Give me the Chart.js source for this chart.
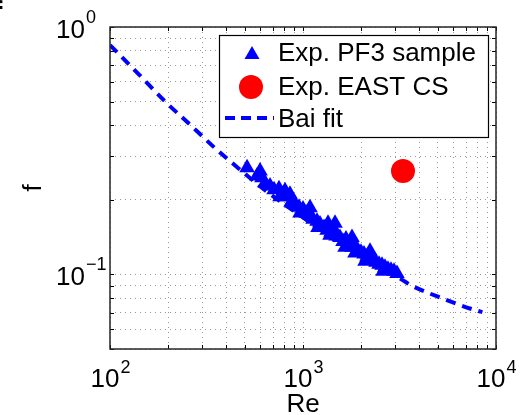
<!DOCTYPE html>
<html>
<head>
<meta charset="utf-8">
<script src="https://cdn.jsdelivr.net/npm/chart.js@4"></script>
<style>
body { margin: 0; background: #fff; }
</style>
</head>
<body>
<canvas id="trand1" width="526" height="415"></canvas>
<script>
// Exp. PF3 sample
let pf3Re = [513, 578, 599, 613, 636, 675, 708, 751, 760, 778, 807, 826, 856, 867, 909, 954, 965, 1000, 1036, 1087, 1087, 1127, 1182, 1196, 1225,
             1285, 1332, 1348, 1380, 1397, 1447, 1465, 1483, 1555, 1612, 1651, 1670, 1731, 1794, 1794, 1859, 1859, 1928, 1998, 2071, 2096,
             2146, 2224, 2224, 2305, 2389, 2476, 2566, 2597, 2660, 2756, 2858, 2961, 3069],
    pf3F = [0.270, 0.250, 0.262, 0.246, 0.234, 0.228, 0.220, 0.222, 0.206, 0.211, 0.218, 0.206, 0.211, 0.196, 0.193, 0.187, 0.177, 0.184, 0.177, 0.174, 0.186,
            0.167, 0.164, 0.155, 0.160, 0.155, 0.151, 0.161, 0.144, 0.148, 0.152, 0.161, 0.143, 0.141, 0.136, 0.129, 0.139, 0.132, 0.129, 0.141,
            0.130, 0.122, 0.125, 0.123, 0.121, 0.113, 0.118, 0.116, 0.124, 0.114, 0.112, 0.110, 0.109, 0.103, 0.107, 0.105, 0.104, 0.103, 0.101],
    // Exp. EAST CS
    eastRe = [3297],
    eastF = [0.262],
    // Bai fit curve
    baiRe = [100, 141, 193, 260, 358, 428, 631, 1000, 1585, 2239, 3185, 3580, 5310, 7980, 8500],
    baiF = [0.845, 0.644, 0.500, 0.403, 0.319, 0.283, 0.220, 0.170, 0.132, 0.112, 0.0964, 0.091, 0.0799, 0.0714, 0.0705],
    // grid / tick positions
    xTickVals = [100, 200, 300, 400, 500, 600, 700, 800, 900, 1000, 2000, 3000, 4000, 5000, 6000, 7000, 8000, 9000, 10000],
    yTickVals = [0.05, 0.06, 0.07, 0.08, 0.09, 0.1, 0.2, 0.3, 0.4, 0.5, 0.6, 0.7, 0.8, 0.9, 1],
    xMajor = [100, 1000, 10000],
    xExp = ['2', '3', '4'],
    yMajor = [1, 0.1],
    yExp = ['0', '\u22121'];

const FONT = '"Liberation Sans", Arial, sans-serif';

function toPts(xs, ys) {
    return xs.map(function(x, i) { return {x: x, y: ys[i]} });
}

let matlabLook = {
    id: 'matlabLook',
    afterDraw: function(chart) {
        let ctx = chart.ctx,
            a = chart.chartArea,
            sx = chart.scales.x,
            sy = chart.scales.y;
        ctx.save();

        // small tick marks inside the box
        ctx.strokeStyle = '#000';
        ctx.lineWidth = 1;
        ctx.beginPath();
        xTickVals.forEach(function(v) {
            let px = Math.round(sx.getPixelForValue(v)) + 0.5;
            ctx.moveTo(px, a.bottom); ctx.lineTo(px, a.bottom - 4);
            ctx.moveTo(px, a.top); ctx.lineTo(px, a.top + 4);
        });
        yTickVals.forEach(function(v) {
            let py = Math.round(sy.getPixelForValue(v)) + 0.5;
            ctx.moveTo(a.left, py); ctx.lineTo(a.left + 4, py);
            ctx.moveTo(a.right, py); ctx.lineTo(a.right - 4, py);
        });
        ctx.stroke();

        // frame
        ctx.strokeStyle = '#262626';
        ctx.lineWidth = 1.5;
        ctx.strokeRect(a.left, a.top, a.right - a.left, a.bottom - a.top);

        // tick labels 10^n
        ctx.fillStyle = '#000';
        ctx.textBaseline = 'alphabetic';
        xMajor.forEach(function(v, i) {
            let px = sx.getPixelForValue(v);
            ctx.font = '26px ' + FONT;
            let w1 = ctx.measureText('10').width;
            ctx.font = '18px ' + FONT;
            let w2 = ctx.measureText(xExp[i]).width;
            let x0 = px - (w1 + w2) / 2;
            ctx.textAlign = 'left';
            ctx.font = '26px ' + FONT;
            ctx.fillText('10', x0, 387);
            ctx.font = '18px ' + FONT;
            ctx.fillText(xExp[i], x0 + w1 + 1, 373);
        });
        yMajor.forEach(function(v, i) {
            let py = sy.getPixelForValue(v);
            ctx.textAlign = 'left';
            ctx.font = '26px ' + FONT;
            let w1 = ctx.measureText('10').width;
            ctx.fillText('10', 56, py + 11);
            ctx.font = '18px ' + FONT;
            ctx.fillText(yExp[i], 56 + w1 + 1, py - 4);
        });

        // axis titles
        ctx.font = '26px ' + FONT;
        ctx.textAlign = 'center';
        ctx.fillText('Re', (a.left + a.right) / 2, 412);
        ctx.save();
        ctx.translate(41, (a.top + a.bottom) / 2);
        ctx.rotate(-Math.PI / 2);
        ctx.fillText('f', 0, 0);
        ctx.restore();

        // cropped panel letter in the corner
        ctx.font = 'bold 34px ' + FONT;
        ctx.textAlign = 'left';
        ctx.fillText('f', -9, 24);

        // legend
        let lx = 219, ly = 35, lw = 269, lh = 102;
        ctx.fillStyle = '#fff';
        ctx.fillRect(lx, ly, lw, lh);
        ctx.strokeStyle = '#000';
        ctx.lineWidth = 1.2;
        ctx.strokeRect(lx + 0.5, ly + 0.5, lw, lh);

        ctx.fillStyle = '#0000ff';
        ctx.beginPath();
        ctx.moveTo(252, 46);
        ctx.lineTo(259.5, 59);
        ctx.lineTo(244.5, 59);
        ctx.closePath();
        ctx.fill();

        ctx.fillStyle = '#ff0000';
        ctx.beginPath();
        ctx.arc(251, 87, 12, 0, Math.PI * 2);
        ctx.fill();

        ctx.strokeStyle = '#0000ff';
        ctx.lineWidth = 4;
        ctx.setLineDash([10, 6]);
        ctx.beginPath();
        ctx.moveTo(225, 118);
        ctx.lineTo(274, 118);
        ctx.stroke();
        ctx.setLineDash([]);

        ctx.fillStyle = '#000';
        ctx.font = '26px ' + FONT;
        ctx.textAlign = 'left';
        ctx.textBaseline = 'middle';
        ctx.fillText('Exp. PF3 sample', 278, 54);
        ctx.fillText('Exp. EAST CS', 278, 88);
        ctx.fillText('Bai fit', 278, 120);

        ctx.restore();
    }
};

let gridOpts = {
    color: 'rgba(0,0,0,0.4)',
    lineWidth: 1,
    drawTicks: false
};

var ctx = document.getElementById('trand1').getContext('2d');
var chart = new Chart(ctx, {
    type: 'scatter',
    data: {
        datasets: [{
            label: 'Exp. PF3 sample',
            data: toPts(pf3Re, pf3F),
            pointStyle: 'triangle',
            pointRadius: 9,
            backgroundColor: '#0000ff',
            borderColor: '#0000ff',
            borderWidth: 0
        }, {
            label: 'Exp. EAST CS',
            data: toPts(eastRe, eastF),
            pointStyle: 'circle',
            pointRadius: 12,
            backgroundColor: '#ff0000',
            borderColor: '#ff0000',
            borderWidth: 0
        }, {
            label: 'Bai fit',
            type: 'line',
            data: toPts(baiRe, baiF),
            showLine: true,
            borderColor: '#0000ff',
            borderWidth: 4,
            borderDash: [10, 7],
            cubicInterpolationMode: 'monotone',
            pointRadius: 0,
            fill: false
        }]
    },
    options: {
        responsive: false,
        animation: false,
        layout: { padding: { left: 110, top: 27, right: 30, bottom: 66 } },
        plugins: {
            legend: { display: false },
            tooltip: { enabled: false }
        },
        scales: {
            x: {
                type: 'logarithmic',
                min: 100,
                max: 10000,
                afterBuildTicks: function(s) { s.ticks = xTickVals.map(function(v) { return {value: v} }) },
                ticks: { display: false, autoSkip: false },
                grid: gridOpts,
                border: { display: false, dash: [1, 4] }
            },
            y: {
                type: 'logarithmic',
                min: 0.05,
                max: 1,
                afterBuildTicks: function(s) { s.ticks = yTickVals.map(function(v) { return {value: v} }) },
                ticks: { display: false, autoSkip: false },
                grid: gridOpts,
                border: { display: false, dash: [1, 4] }
            }
        }
    },
    plugins: [matlabLook]
});
</script>
</body>
</html>
